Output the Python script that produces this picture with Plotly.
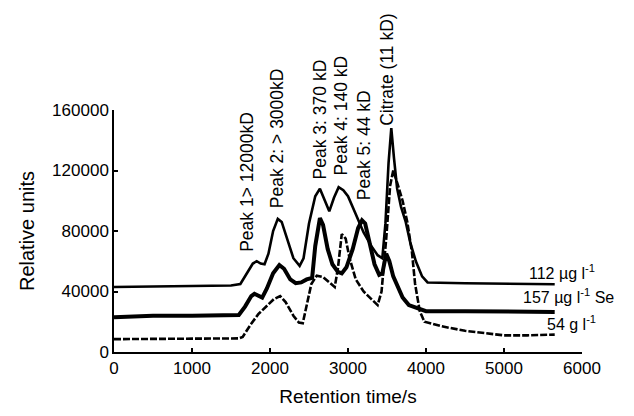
import plotly.graph_objects as go

# Retention time (s) and relative units for each sample
x_112 = [0, 500, 1000, 1500, 1620, 1700, 1780, 1830, 1880, 1930, 1980, 2040, 2100, 2150, 2220, 2300,
         2380, 2430, 2500, 2580, 2640, 2700, 2760, 2820, 2880, 2940, 3000, 3100, 3200, 3300, 3380,
         3440, 3480, 3520, 3555, 3590, 3630, 3680, 3740, 3800, 3870, 3950, 4020, 4500, 5000, 5650]
y_112 = [43000, 43500, 44000, 44000, 45000, 52000, 58500, 60000, 58500, 58000, 65000, 80000, 88000,
         86000, 75000, 62000, 57000, 62000, 85000, 103000, 108000, 101000, 93000, 102000, 109000,
         107000, 103000, 91000, 79000, 70000, 64000, 62000, 85000, 125000, 148000, 128000, 108000,
         96000, 86000, 72000, 60000, 50000, 46000, 45500, 45000, 44800]

x_157 = [0, 500, 1000, 1500, 1600, 1680, 1760, 1800, 1850, 1900, 1960, 2040, 2120, 2180, 2260, 2330,
         2400, 2470, 2540, 2580, 2640, 2680, 2740, 2800, 2870, 2920, 2980, 3060, 3130, 3180, 3220,
         3280, 3340, 3400, 3440, 3490, 3530, 3580, 3630, 3700, 3780, 3900, 4000, 4500, 5000, 5650]
y_157 = [23000, 24000, 24000, 24000, 24500, 30000, 37000, 38500, 37000, 36000, 42000, 52000, 57500,
         55000, 48000, 45500, 46000, 48000, 49000, 70000, 88500, 84000, 68000, 58000, 53000, 52000,
         56000, 68000, 82000, 87000, 85000, 72000, 58000, 51000, 52000, 65000, 60000, 50000, 44000,
         36000, 31000, 28500, 27000, 27000, 26500, 26500]

x_54 = [0, 800, 1600, 1650, 1750, 1850, 1950, 2050, 2130, 2200, 2300, 2370, 2420, 2470, 2530, 2600,
        2680, 2760, 2830, 2870, 2920, 2970, 3020, 3100, 3200, 3300, 3380, 3430, 3490, 3540, 3580,
        3630, 3700, 3760, 3820, 3860, 3920, 3980, 4200, 4500, 4800, 5000, 5300, 5650]
y_54 = [8500, 8500, 9000, 10000, 18000, 25000, 30000, 35000, 37000, 33000, 24000, 19500, 19000,
        30000, 45000, 50500, 49500, 46000, 43000, 55000, 78000, 75000, 62000, 48000, 40000, 35000,
        31000, 40000, 75000, 110000, 120000, 112000, 100000, 86000, 66000, 45000, 27000, 20000,
        17000, 14000, 12000, 11000, 11000, 11500]

peak_labels = ["Peak 1> 12000kD", "Peak 2: > 3000kD", "Peak 3: 370 kD", "Peak 4: 140 kD",
               "Peak 5: 44 kD", "Citrate (11 kD)"]
peak_x = [1705, 2090, 2641, 2910, 3205, 3500]
peak_y = [64900, 93800, 112800, 115400, 99000, 148200]

series_labels = ["112 µg l<sup>-1</sup>", "157 µg l<sup>-1</sup> Se", "54 g l<sup>-1</sup>"]
series_label_x = [5290, 5220, 5530]
series_label_y = [53100, 36700, 19000]

x_ticks = [0, 1000, 2000, 3000, 4000, 5000, 6000]
y_ticks = [0, 40000, 80000, 120000, 160000]
y_tick_text = ["0", "40000", "80000", "120000", "160000"]

FONT = "Liberation Sans, Arial, sans-serif"

fig = go.Figure()
fig.add_trace(go.Scatter(x=x_112, y=y_112, mode="lines", line=dict(color="black", width=2.6),
                         showlegend=False))
fig.add_trace(go.Scatter(x=x_157, y=y_157, mode="lines", line=dict(color="black", width=4),
                         showlegend=False))
fig.add_trace(go.Scatter(x=x_54, y=y_54, mode="lines",
                         line=dict(color="black", width=2.6, dash="7px,2px"), showlegend=False))

for t, x, y in zip(peak_labels, peak_x, peak_y):
    fig.add_annotation(x=x, y=y, text=t, textangle=-90, showarrow=False, xanchor="center",
                       yanchor="bottom", font=dict(family=FONT, size=17.5, color="black"))

for t, x, y in zip(series_labels, series_label_x, series_label_y):
    fig.add_annotation(x=x, y=y, text=t, showarrow=False, xanchor="left", yanchor="middle",
                       font=dict(family=FONT, size=16, color="black"))

# page has an 8px body margin, so the figure is 8px smaller and margins compensate
fig.update_layout(
    width=626, height=408,
    margin=dict(l=106, r=52, t=102, b=62),
    paper_bgcolor="white", plot_bgcolor="white",
    font=dict(family=FONT, size=17, color="black"),
)
fig.update_xaxes(range=[0, 6000], tickvals=x_ticks, showgrid=False, zeroline=False,
                 showline=True, linecolor="black", linewidth=1.5, ticks="inside", ticklen=4,
                 tickcolor="black", tickwidth=1.5, tickfont=dict(size=17),
                 title=dict(text="Retention time/s", font=dict(size=19), standoff=13))
fig.update_yaxes(range=[0, 160000], tickvals=y_ticks, ticktext=y_tick_text, showgrid=False,
                 zeroline=False, showline=True, linecolor="black", linewidth=1.5, ticks="inside",
                 ticklen=4, tickcolor="black", tickwidth=1.5, tickfont=dict(size=17),
                 title=dict(text="Relative units", font=dict(size=20), standoff=12))

fig.write_html("out.html")
